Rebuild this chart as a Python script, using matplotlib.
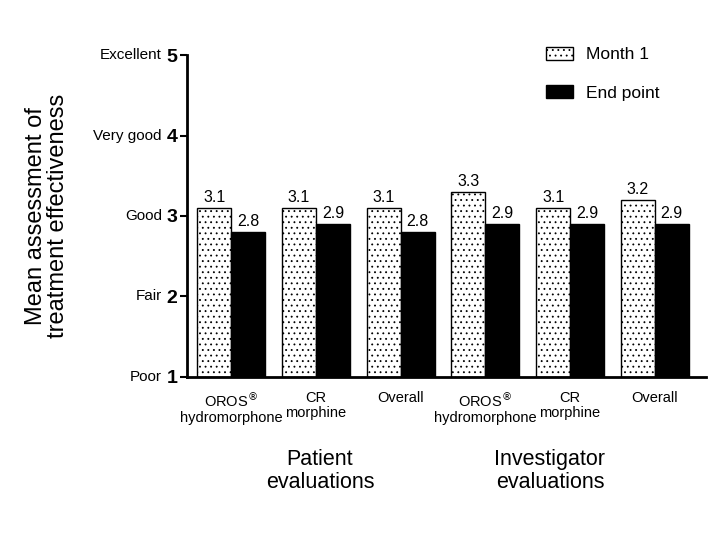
import matplotlib
matplotlib.use("Agg")
from matplotlib import pyplot as plt
import numpy as np

plt.rcParams['font.family'] = ['Liberation Sans', 'DejaVu Sans']
plt.rcParams['hatch.linewidth'] = 0.6

categories = ["OROS$^{®}$\nhydromorphone", "CR\nmorphine", "Overall",
              "OROS$^{®}$\nhydromorphone", "CR\nmorphine", "Overall"]
month1 = [3.1, 3.1, 3.1, 3.3, 3.1, 3.2]
endpoint = [2.8, 2.9, 2.8, 2.9, 2.9, 2.9]
groups = ["Patient\nevaluations", "Investigator\nevaluations"]
scale_words = ["Poor", "Fair", "Good", "Very good", "Excellent"]
scale_nums = [1, 2, 3, 4, 5]

fig = plt.figure(figsize=(7.2, 5.4), dpi=100)
ax = fig.add_axes([0.26, 0.302, 0.72, 0.596])

x = np.arange(len(categories))
w = 0.4
ax.bar(x - w/2, np.array(month1) - 1, w, bottom=1, color="white",
       edgecolor="black", hatch="...", linewidth=1, label="Month 1")
ax.bar(x + w/2, np.array(endpoint) - 1, w, bottom=1, color="black",
       edgecolor="black", linewidth=1, label="End point")

for xi, v in zip(x - w/2, month1):
    ax.text(xi, v + 0.04, f"{v:.1f}", ha="center", va="bottom", fontsize=11.5)
for xi, v in zip(x + w/2, endpoint):
    ax.text(xi, v + 0.04, f"{v:.1f}", ha="center", va="bottom", fontsize=11.5)

ax.set_ylim(1, 5)
ax.set_xlim(-0.52, 5.6)
ax.set_yticks(scale_nums)
ax.set_yticklabels([str(n) for n in scale_nums], fontsize=14, fontweight="bold")
for n, word in zip(scale_nums, scale_words):
    ax.text(-0.82, n, word, ha="right", va="center", fontsize=11)
ax.set_xticks(x)
ax.set_xticklabels(categories, fontsize=10.5, linespacing=1.1)
ax.tick_params(axis="x", length=0, pad=10)
ax.tick_params(axis="y", length=5, width=1.5, pad=2)

for s in ["top", "right"]:
    ax.spines[s].set_visible(False)
for s in ["left", "bottom"]:
    ax.spines[s].set_linewidth(2)

ax.set_ylabel("Mean assessment of\ntreatment effectiveness", fontsize=17,
              labelpad=70, linespacing=1.0)

fig.text(320/720, 1 - 471/540, groups[0], ha="center", va="center", fontsize=15.5, linespacing=1.1)
fig.text(550/720, 1 - 471/540, groups[1], ha="center", va="center", fontsize=15.5, linespacing=1.1)

ax.legend(loc="upper left", frameon=False, fontsize=12.5, handlelength=1.55,
          handleheight=0.8, handletextpad=0.75, labelspacing=1.3,
          bbox_to_anchor=(530/720, 1 - 31/540), bbox_transform=fig.transFigure)

plt.savefig("out.png", dpi=100)
